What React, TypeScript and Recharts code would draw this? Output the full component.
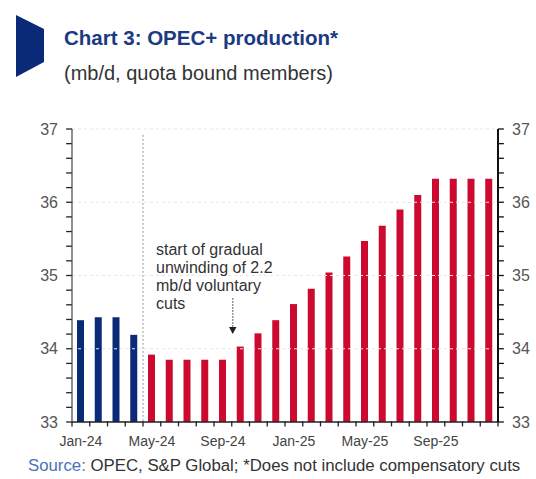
import React from 'react';
import { ComposedChart, Bar, Line, XAxis, YAxis, Cell, ReferenceLine } from 'recharts';

const months = [
  'Jan-24', 'Feb-24', 'Mar-24', 'Apr-24', 'May-24', 'Jun-24', 'Jul-24', 'Aug-24',
  'Sep-24', 'Oct-24', 'Nov-24', 'Dec-24', 'Jan-25', 'Feb-25', 'Mar-25', 'Apr-25',
  'May-25', 'Jun-25', 'Jul-25', 'Aug-25', 'Sep-25', 'Oct-25', 'Nov-25', 'Dec-25',
];
const production = [
  34.39, 34.43, 34.43, 34.19, 33.92, 33.85, 33.85, 33.85,
  33.85, 34.03, 34.21, 34.39, 34.61, 34.82, 35.04, 35.26,
  35.47, 35.68, 35.9, 36.1, 36.32, 36.32, 36.32, 36.32,
];
const actualMonths = ['Jan-24', 'Feb-24', 'Mar-24', 'Apr-24'];
const labelledMonths = ['Jan-24', 'May-24', 'Sep-24', 'Jan-25', 'May-25', 'Sep-25'];
const yTicks = [
  33, 33.2, 33.4, 33.6, 33.8, 34, 34.2, 34.4, 34.6, 34.8, 35, 35.2, 35.4, 35.6, 35.8,
  36, 36.2, 36.4, 36.6, 36.8, 37,
];
const yLabels = [33, 34, 35, 36, 37];
const gridValues = [34, 35, 36, 37];
const monthBoundaries = [
  0, 1, 2, 3, 4, 5, 6, 7, 8, 9, 10, 11, 12, 13, 14, 15, 16, 17, 18, 19, 20, 21, 22, 23, 24,
];
const annotationLines = ['start of gradual', 'unwinding of 2.2', 'mb/d voluntary', 'cuts'];

const data = months.map((m, i) => ({ month: m, pos: i + 0.5, value: production[i] }));

const NAVY = '#0a2a78';
const RED = '#cc0a2f';
const FONT = '"Liberation Sans", Arial, sans-serif';
const AXIS = '#222';

const isLabel = (v: number) => yLabels.some((l) => Math.abs(l - v) < 1e-6);

const LeftTick = (props: any) => {
  const { x, y, payload } = props;
  return isLabel(payload.value) ? (
    <text x={x - 14} y={y} dy="0.35em" textAnchor="end" fontSize={16} fill="#555" fontFamily={FONT}>
      {Math.round(payload.value)}
    </text>
  ) : (
    <g />
  );
};

const RightTick = (props: any) => {
  const { x, y, payload } = props;
  return isLabel(payload.value) ? (
    <text x={x + 14} y={y} dy="0.35em" textAnchor="start" fontSize={16} fill="#555" fontFamily={FONT}>
      {Math.round(payload.value)}
    </text>
  ) : (
    <g />
  );
};

const BottomTick = (props: any) => {
  const { x, y, payload } = props;
  return labelledMonths.includes(payload.value) ? (
    <text x={x} y={y + 14} dy="0.71em" textAnchor="middle" fontSize={14} fill="#444" fontFamily={FONT}>
      {payload.value}
    </text>
  ) : (
    <g />
  );
};

export default function App() {
  return (
    <div style={{ position: 'absolute', left: 0, top: 0, width: 536, height: 479, background: '#fff', fontFamily: FONT }}>
      <ComposedChart
        width={536}
        height={479}
        data={data}
        margin={{ top: 129, right: 0, bottom: 17, left: 0 }}
        barCategoryGap={0}
      >
        {gridValues.map((g) => (
          <ReferenceLine key={g} yAxisId="l" y={g} stroke="#e6e6e6" strokeDasharray="3 3" />
        ))}
        <XAxis xAxisId="marks" dataKey="pos" type="number" domain={[0, 24]} hide />
        <XAxis
          dataKey="month"
          interval={0}
          axisLine={false}
          tickLine={false}
          tickSize={0}
          tickMargin={0}
          height={40}
          tick={<BottomTick />}
        />
        <YAxis
          yAxisId="l"
          domain={[33, 37]}
          ticks={yTicks}
          interval={0}
          width={72}
          tickSize={0}
          tickMargin={0}
          axisLine={{ stroke: '#444', strokeWidth: 1.2 }}
          tickLine={false}
          tick={<LeftTick />}
        />
        <YAxis
          yAxisId="r"
          orientation="right"
          domain={[33, 37]}
          ticks={yTicks}
          interval={0}
          width={38}
          tickSize={0}
          tickMargin={0}
          axisLine={{ stroke: '#111', strokeWidth: 2 }}
          tickLine={false}
          tick={<RightTick />}
        />
        <ReferenceLine
          xAxisId="marks"
          yAxisId="l"
          segment={[{ x: 4, y: 36.92 }, { x: 4, y: 33 }]}
          stroke="#999"
          strokeDasharray="2 2"
        />
        <ReferenceLine
          xAxisId="marks"
          yAxisId="l"
          segment={[{ x: 9.06, y: 34.69 }, { x: 9.06, y: 34.28 }]}
          stroke="#333"
          strokeDasharray="1.5 1.5"
        />
        <Bar dataKey="value" yAxisId="l" barSize={7} isAnimationActive={false}>
          {data.map((d) => (
            <Cell key={d.month} fill={actualMonths.includes(d.month) ? NAVY : RED} />
          ))}
        </Bar>
        <Line
          dataKey="value"
          xAxisId="marks"
          yAxisId="r"
          stroke="none"
          dot={false}
          activeDot={false}
          legendType="none"
          isAnimationActive={false}
        />
        <ReferenceLine
          xAxisId="marks"
          yAxisId="l"
          segment={[{ x: 0, y: 33 }, { x: 24, y: 33 }]}
          stroke={AXIS}
          strokeWidth={1.5}
          ifOverflow="visible"
        />
        {yTicks.map((v) => (
          <ReferenceLine
            key={`lt${v}`}
            xAxisId="marks"
            yAxisId="l"
            segment={[{ x: -0.33, y: v }, { x: 0, y: v }]}
            stroke={AXIS}
            strokeWidth={1.3}
            ifOverflow="visible"
          />
        ))}
        {yTicks.map((v) => (
          <ReferenceLine
            key={`rt${v}`}
            xAxisId="marks"
            yAxisId="l"
            segment={[{ x: 24, y: v }, { x: 24.33, y: v }]}
            stroke="#111"
            strokeWidth={1.3}
            ifOverflow="visible"
          />
        ))}
        {monthBoundaries.map((b) => (
          <ReferenceLine
            key={`bt${b}`}
            xAxisId="marks"
            yAxisId="l"
            segment={[{ x: b, y: 33.01 }, { x: b, y: 32.94 }]}
            stroke={AXIS}
            strokeWidth={1.3}
            ifOverflow="visible"
          />
        ))}
      </ComposedChart>
      <svg width={536} height={479} style={{ position: 'absolute', left: 0, top: 0, pointerEvents: 'none' }}>
        <polygon points="16,15 44,29 44,62 16,77" fill={NAVY} />
        <text x={64} y={45} fontSize={20.5} fontWeight="bold" fill="#1b3a82" fontFamily={FONT}>
          Chart 3: OPEC+ production*
        </text>
        <text x={64} y={80} fontSize={20} fill="#333" fontFamily={FONT}>
          (mb/d, quota bound members)
        </text>
        {annotationLines.map((t, i) => (
          <text key={t} x={156} y={255 + i * 18} fontSize={16} fill="#333" fontFamily={FONT}>
            {t}
          </text>
        ))}
        <polygon points="229,327 236.5,327 232.7,334" fill="#222" />
        <text x={28} y={471} fontSize={16.8} fill="#333" fontFamily={FONT}>
          <tspan fill="#4a72b8">Source:</tspan> OPEC, S&amp;P Global; *Does not include compensatory cuts
        </text>
      </svg>
    </div>
  );
}
